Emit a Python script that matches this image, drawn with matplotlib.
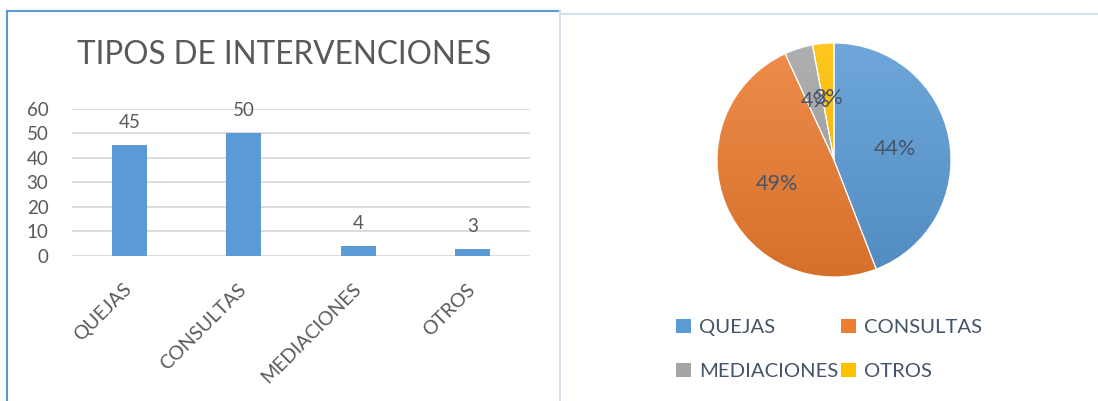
import matplotlib
matplotlib.use('Agg')
import matplotlib.pyplot as plt
import numpy as np
from matplotlib.patches import Patch
from matplotlib.lines import Line2D
from matplotlib.colors import LinearSegmentedColormap, to_rgb

# ---------------- data ----------------
categories = ['QUEJAS', 'CONSULTAS', 'MEDIACIONES', 'OTROS']
values = [45, 50, 4, 3]
yticks = [0, 10, 20, 30, 40, 50, 60]
bar_color = '#5B9BD5'
pie_colors = ['#5B9BD5', '#ED7D31', '#A5A5A5', '#FFC000']
title = 'TIPOS DE INTERVENCIONES'

plt.rcParams['font.family'] = ['Lato', 'DejaVu Sans']
W, H = 1098, 401
fig = plt.figure(figsize=(W / 100, H / 100), dpi=100)


def box(x0, y0, x1, y1):
    return [x0 / W, 1 - y1 / H, (x1 - x0) / W, (y1 - y0) / H]


# ---------------- frames ----------------
fig.add_artist(Line2D([7 / W, 7 / W], [0, 1 - 10.5 / H], color='#5B9BD5', lw=1.5))
fig.add_artist(Line2D([7 / W, 560 / W], [1 - 10.5 / H, 1 - 10.5 / H], color='#5B9BD5', lw=1.5))
fig.add_artist(Line2D([560 / W, 560 / W], [0, 1 - 11 / H], color='#D6DEEA', lw=1.5))
fig.add_artist(Line2D([561 / W, 1097 / W], [1 - 14 / H, 1 - 14 / H], color='#D6DEEA', lw=1.5))

text_gray = '#595959'

# ---------------- bar chart ----------------
ax = fig.add_axes(box(72, 108.5, 530, 256))
x = np.arange(len(categories))
bars = ax.bar(x, values, width=0.31, color=bar_color, zorder=3)
ax.set_xlim(-0.5, len(categories) - 0.5)
ax.set_ylim(0, 60)
ax.set_yticks(yticks)
ax.yaxis.grid(True, color='#D9D9D9', lw=1.3, zorder=0)
ax.set_axisbelow(True)
for s in ax.spines.values():
    s.set_visible(False)
ax.tick_params(axis='y', length=0, pad=17, labelsize=13.5, labelcolor=text_gray)
ax.set_xticks(x)
ax.set_xticklabels(categories, rotation=45, ha='right', va='center',
                   rotation_mode='anchor', fontsize=14, color=text_gray)
ax.tick_params(axis='x', length=0, pad=22)
ax.bar_label(bars, labels=[str(v) for v in values], padding=10, fontsize=13.5, color=text_gray)
fig.text(284 / W, 1 - 55 / H, title, ha='center', va='center', fontsize=22.7, color=text_gray)

# ---------------- pie chart ----------------
ax2 = fig.add_axes(box(717, 43, 951, 277))
wedges, texts, autotexts = ax2.pie(
    values, colors=pie_colors, startangle=90, counterclock=False,
    autopct='%1.0f%%', pctdistance=0.53,
    wedgeprops=dict(edgecolor='white', linewidth=0.8),
    textprops=dict(color='#44546A', fontsize=15.5))
grad = np.linspace(0, 1, 256).reshape(-1, 1)
for w, c in zip(wedges, pie_colors):
    base = np.array(to_rgb(c))
    light = base + (1 - base) * 0.12
    dark = base * 0.9
    cmap = LinearSegmentedColormap.from_list('g', [light, dark])
    im = ax2.imshow(grad, extent=[-1, 1, -1, 1], origin='upper', cmap=cmap,
                    aspect='auto', zorder=0.5, interpolation='bilinear')
    im.set_clip_path(w)
    w.set_facecolor('none')
    w.set_zorder(1)
for t in autotexts:
    t.set_zorder(5)
ax2.set_xlim(-1, 1)
ax2.set_ylim(-1, 1)
ax2.set_aspect('equal')
ax2.axis('off')

order = [0, 2, 1, 3]
handles = [Patch(facecolor=pie_colors[i]) for i in order]
labels = [categories[i] for i in order]
fig.legend(handles, labels, ncol=2, loc='upper left',
           bbox_to_anchor=(676 / W, 1 - 319 / H), frameon=False,
           fontsize=14.6, handlelength=0.72, handleheight=0.72,
           handletextpad=0.4, columnspacing=0.15, labelspacing=1.3,
           labelcolor='#44546A', borderpad=0, borderaxespad=0)

fig.savefig('out.png', dpi=100)
